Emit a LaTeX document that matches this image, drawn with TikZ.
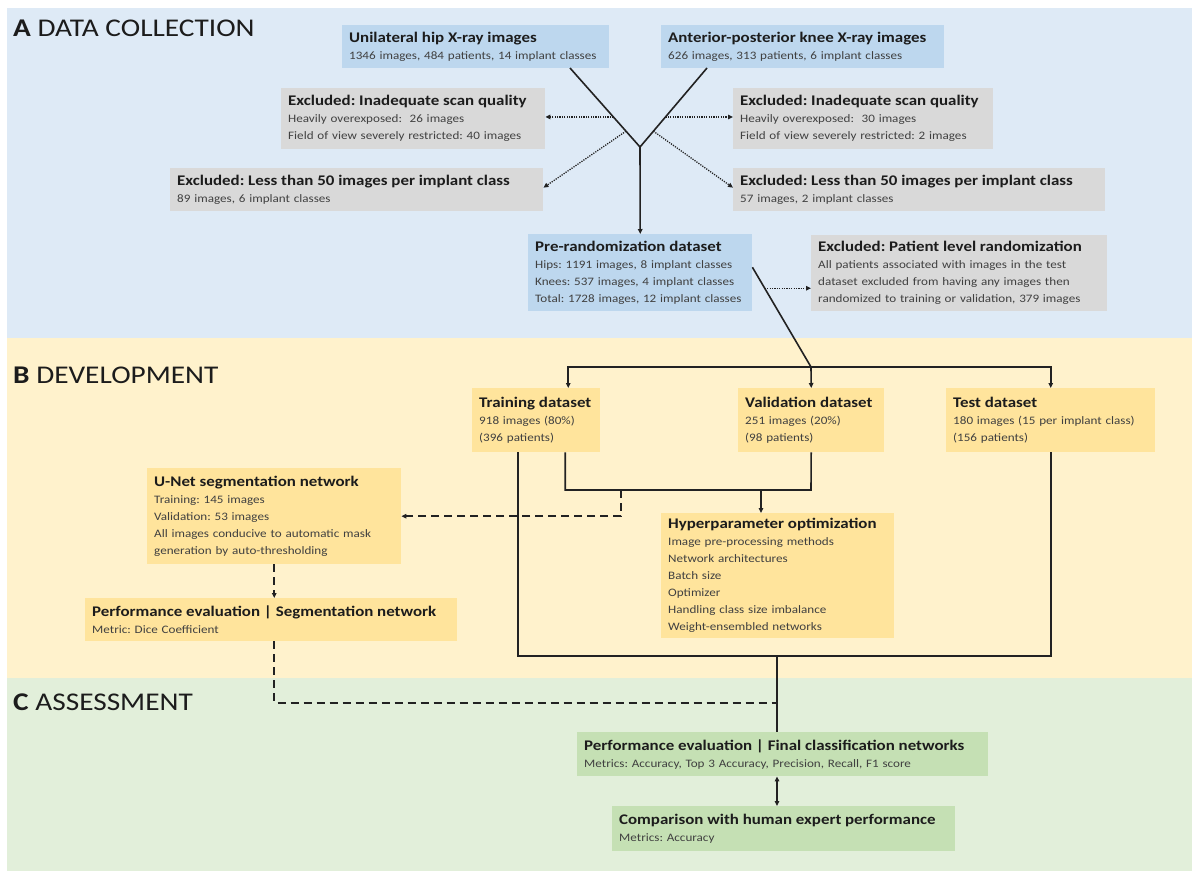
\documentclass[tikz,border=0pt]{standalone}
\usepackage{fontspec}
\setmainfont{Carlito}[FakeStretch=1.15]
\usetikzlibrary{arrows.meta,calc}
\definecolor{bandA}{HTML}{DEEAF6}
\definecolor{bandB}{HTML}{FFF2CC}
\definecolor{bandC}{HTML}{E2EFDA}
\definecolor{boxblue}{HTML}{BDD7EE}
\definecolor{boxgray}{HTML}{D9D9D9}
\definecolor{boxyel}{HTML}{FFE49C}
\definecolor{boxgrn}{HTML}{C5E0B4}
\definecolor{ttlcol}{HTML}{1C1C1C}
\definecolor{subcol}{HTML}{404040}
\definecolor{linecol}{HTML}{222222}
\frenchspacing
\newcommand{\boxtitle}[1]{\mbox{\fontsize{14.7}{17}\selectfont\bfseries\color{ttlcol}#1}}
\tikzset{
  box/.style={anchor=north west, inner xsep=7pt, inner ysep=2pt, align=left,
    font=\fontsize{11.4}{17}\selectfont\frenchspacing, text=subcol},
  bluebox/.style={box, fill=boxblue},
  graybox/.style={box, fill=boxgray},
  yelbox/.style={box, fill=boxyel},
  grnbox/.style={box, fill=boxgrn},
  hdr/.style={anchor=base west, inner sep=0pt, font=\fontsize{25.5}{27}\selectfont, text=ttlcol},
  conn/.style={draw=linecol, line width=1.6pt},
  dotconn/.style={draw=linecol, line width=1.3pt, dash pattern=on 1.2pt off 1.2pt},
  dashconn/.style={draw=linecol, line width=1.5pt, dash pattern=on 8pt off 5pt},
  tip/.style={-{Triangle[length=5pt,width=4.5pt]}},
  dtip/.style={{Triangle[length=5pt,width=4.5pt]}-{Triangle[length=5pt,width=4.5pt]}}
}
\begin{document}
\begin{tikzpicture}[x=1pt,y=-1pt]
\path[use as bounding box] (0,0) rectangle (1199,878);
% bands
\fill[bandA] (7,8) rectangle (1192,338);
\fill[bandB] (7,338) rectangle (1192,678);
\fill[bandC] (7,678) rectangle (1192,871);
% headers
\node[hdr] (hA) at (13,36) {\textbf{A} DATA COLLECTION};
\node[hdr] (hB) at (13,383) {\textbf{B} DEVELOPMENT};
\node[hdr] (hC) at (13,710) {\textbf{C} ASSESSMENT};
% A boxes
\node[bluebox, text width=253pt, minimum height=43pt] (hip) at (342,25)
  {\boxtitle{Unilateral hip X-ray images}\\1346 images, 484 patients, 14 implant classes};
\node[bluebox, text width=269pt, minimum height=43pt] (knee) at (661,25)
  {\boxtitle{Anterior-posterior knee X-ray images}\\626 images, 313 patients, 6 implant classes};
\node[graybox, text width=250pt, minimum height=61pt] (exL1) at (281,88)
  {\boxtitle{Excluded: Inadequate scan quality}\\Heavily overexposed:\ \ 26 images\\Field of view severely restricted:\ 40 images};
\node[graybox, text width=246pt, minimum height=61pt] (exR1) at (733,88)
  {\boxtitle{Excluded: Inadequate scan quality}\\Heavily overexposed:\ \ 30 images\\Field of view severely restricted:\ 2 images};
\node[graybox, text width=359pt, minimum height=43pt] (exL2) at (170,168)
  {\boxtitle{Excluded: Less than 50 images per implant class}\\89 images, 6 implant classes};
\node[graybox, text width=358pt, minimum height=43pt] (exR2) at (733,168)
  {\boxtitle{Excluded: Less than 50 images per implant class}\\57 images, 2 implant classes};
\node[bluebox, text width=210pt, minimum height=77pt] (pre) at (528,234)
  {\boxtitle{Pre-randomization dataset}\\Hips: 1191 images, 8 implant classes\\Knees: 537 images, 4 implant classes\\Total: 1728 images, 12 implant classes};
\node[graybox, text width=282pt, minimum height=76pt] (exP) at (811,235)
  {\boxtitle{Excluded: Patient level randomization}\\All patients associated with images in the test\\dataset excluded from having any images then\\randomized to training or validation, 379 images};
% B boxes
\node[yelbox, text width=114pt, minimum height=64pt] (train) at (472,388)
  {\boxtitle{Training dataset}\\918 images (80\%)\\(396 patients)};
\node[yelbox, text width=132pt, minimum height=64pt] (valid) at (738,388)
  {\boxtitle{Validation dataset}\\251 images (20\%)\\(98 patients)};
\node[yelbox, text width=195pt, minimum height=64pt] (test) at (946,388)
  {\boxtitle{Test dataset}\\180 images (15 per implant class)\\(156 patients)};
\node[yelbox, text width=240pt, minimum height=96pt] (unet) at (147,468)
  {\boxtitle{U-Net segmentation network}\\Training: 145 images\\Validation: 53 images\\All images conducive to automatic mask\\generation by auto-thresholding};
\node[yelbox, text width=219pt, minimum height=125pt] (hyper) at (661,513)
  {\boxtitle{Hyperparameter optimization}\\Image pre-processing methods\\Network architectures\\Batch size\\Optimizer\\Handling class size imbalance\\Weight-ensembled networks};
\node[yelbox, text width=358pt, minimum height=43pt] (pseg) at (85,598)
  {\boxtitle{Performance evaluation \textbar\ Segmentation network}\\Metric: Dice Coefficient};
% C boxes
\node[grnbox, text width=397pt, minimum height=44pt] (pfin) at (577,732)
  {\boxtitle{Performance evaluation \textbar\ Final classification networks}\\Metrics: Accuracy, Top 3 Accuracy, Precision, Recall, F1 score};
\node[grnbox, text width=329pt, minimum height=45pt] (comp) at (612,806)
  {\boxtitle{Comparison with human expert performance}\\Metrics: Accuracy};
% coordinates
\coordinate (J) at (640,147);
\coordinate (hipOut) at (570,68);
\coordinate (kneeOut) at (707,68);
\coordinate (preOut) at ($(pre.north east)!0.43!(pre.south east)$);
\coordinate (T) at (811,367);
\coordinate (V) at (811,490);
\coordinate (H) at (761,490);
\coordinate (D) at (621,490);
\coordinate (B) at (777,656);
\coordinate (M) at (777,703);
\coordinate (dL1) at ($(hipOut)!0.62!(J)$);
\coordinate (dR1) at ($(kneeOut)!0.62!(J)$);
\coordinate (dL2) at ($(hipOut)!0.8!(J)$);
\coordinate (dR2) at ($(kneeOut)!0.8!(J)$);
\coordinate (dP) at ($(preOut)!0.21!(T)$);
% A connectors
\draw[conn] (hipOut) -- (J);
\draw[conn] (kneeOut) -- (J);
\draw[conn, tip] (J) -- (pre.north);
\draw[dotconn, tip] (dL1) -- (dL1 -| exL1.east);
\draw[dotconn, tip] (dR1) -- (dR1 -| exR1.west);
\draw[dotconn, tip] (dL2) -- ([yshift=2pt]exL2.east);
\draw[dotconn, tip] (dR2) -- ([yshift=2pt]exR2.west);
\draw[conn] (preOut) -- (T);
\draw[dotconn, tip] (dP) -- (dP -| exP.west);
% B connectors
\draw[conn, tip] (T) -| ([xshift=32pt]train.north);
\draw[conn, tip] (T) -- (valid.north);
\draw[conn, tip] (T) -| (test.north);
\draw[conn] (valid.south) -- (V) -| ([xshift=29pt]train.south);
\draw[conn, tip] (H) -- (H |- hyper.north);
\draw[dashconn, tip] (D) |- (unet.east);
\draw[dashconn, tip] (unet.south) -- (unet.south |- pseg.north);
\draw[conn] ([xshift=-18pt]train.south) |- (B) -| (test.south);
\draw[conn] (B) -- (B |- pfin.north);
\draw[dashconn] (pseg.south -| unet.south) |- (M);
% C connectors
\draw[conn, dtip] (pfin.south -| B) -- (comp.north -| B);
\end{tikzpicture}
\end{document}
